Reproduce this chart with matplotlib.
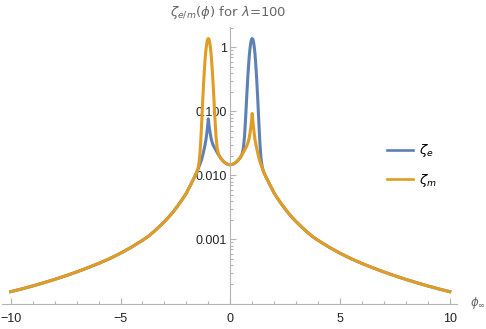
import matplotlib
matplotlib.use("Agg")
import matplotlib.pyplot as plt
from matplotlib.ticker import FixedLocator, NullFormatter, FixedFormatter, LogLocator
from matplotlib.lines import Line2D

plt.rcParams['font.family'] = ['DejaVu Sans']
plt.rcParams['mathtext.fontset'] = 'dejavusans'

# |phi| sample positions (the chart is read on both sides of 0)
phi_half = [0, 0.1, 0.2, 0.3, 0.35, 0.4, 0.45, 0.5, 0.55, 0.6, 0.65, 0.7, 0.75, 0.8, 0.85,
            0.875, 0.9, 0.925, 0.95, 0.975, 1.0, 1.025, 1.05, 1.075, 1.1, 1.125, 1.15, 1.2,
            1.25, 1.3, 1.35, 1.4, 1.45, 1.5, 1.55, 1.6, 1.65, 1.7, 1.8, 1.9, 2.0, 2.2, 2.4,
            2.6, 2.8, 3.0, 3.25, 3.5, 3.75, 4.0, 4.5, 5.0, 5.5, 6.0, 6.5, 7.0, 7.5, 8.0,
            8.5, 9.0, 9.5, 10.0]

# common tail values for |phi| = 1.7 ... 10 (both curves coincide there)
tail = [0.0085, 0.0072, 0.0062, 0.0053, 0.00416, 0.00333, 0.00271, 0.00225, 0.0019,
        0.00157, 0.00131, 0.00111, 0.00097, 0.00076, 0.00061, 0.000502, 0.000422,
        0.000361, 0.000311, 0.000271, 0.000238, 0.000211, 0.000188, 0.000169, 0.000153]

# zeta_e for phi >= 0, |phi| = 0 ... 1.65 (large peak at +1)
zeta_e_pos = [0.0147, 0.0149, 0.0155, 0.0165, 0.0172, 0.018, 0.019, 0.0203, 0.0224, 0.0273,
              0.041, 0.080, 0.171, 0.35, 0.63, 0.80, 0.97, 1.13, 1.26, 1.35, 1.38, 1.35,
              1.26, 1.13, 0.97, 0.80, 0.63, 0.34, 0.162, 0.070, 0.032, 0.0185, 0.0139,
              0.0119, 0.0108, 0.0099, 0.0091]
# zeta_e for phi <= 0, |phi| = 0 ... 1.65 (small peak at -1)
zeta_e_neg = [0.0147, 0.0149, 0.0155, 0.0165, 0.0172, 0.018, 0.019, 0.0202, 0.0215, 0.023,
              0.0247, 0.0265, 0.0285, 0.031, 0.0352, 0.0385, 0.043, 0.0485, 0.055, 0.063,
              0.077, 0.062, 0.052, 0.044, 0.038, 0.0335, 0.030, 0.025, 0.021, 0.018, 0.016,
              0.0145, 0.0131, 0.0118, 0.0108, 0.0099, 0.0091]
# zeta_m for phi >= 0, |phi| = 0 ... 1.65 (small peak at +1)
zeta_m_pos = [0.0147, 0.0149, 0.0155, 0.0165, 0.0172, 0.018, 0.019, 0.0202, 0.0215, 0.023,
              0.0248, 0.0268, 0.029, 0.032, 0.037, 0.041, 0.046, 0.053, 0.062, 0.074, 0.093,
              0.073, 0.060, 0.050, 0.043, 0.037, 0.033, 0.027, 0.0225, 0.019, 0.0165, 0.0147,
              0.0132, 0.0118, 0.0108, 0.0099, 0.0091]
# zeta_m for phi <= 0, |phi| = 0 ... 1.65 (large peak at -1)
zeta_m_neg = [0.0147, 0.0149, 0.0155, 0.0165, 0.0172, 0.018, 0.019, 0.0203, 0.0224, 0.0273,
              0.041, 0.080, 0.171, 0.35, 0.63, 0.80, 0.97, 1.13, 1.26, 1.35, 1.38, 1.35,
              1.26, 1.13, 0.97, 0.80, 0.63, 0.34, 0.162, 0.070, 0.032, 0.0185, 0.0139,
              0.0119, 0.0108, 0.0099, 0.0091]

x_ticks = [-10, -5, 0, 5, 10]
x_tick_labels = ["\u221210", "\u22125", "0", "5", "10"]
y_ticks = [0.001, 0.01, 0.1, 1]
y_tick_labels = ["0.001", "0.010", "0.100", "1"]
series_labels = [r"$\zeta_e$", r"$\zeta_m$"]

# assemble full series from the read halves
phi = [-p for p in reversed(phi_half[1:])] + phi_half
def full(neg, pos):
    n = neg + tail
    p = pos + tail
    return list(reversed(n[1:])) + p
zeta_e = full(zeta_e_neg, zeta_e_pos)
zeta_m = full(zeta_m_neg, zeta_m_pos)

BLUE = "#5E81B5"
ORANGE = "#E19C24"
AXC = "#b3b3b3"

fig = plt.figure(figsize=(4.86, 3.29), dpi=100)
ax = fig.add_axes([2/486, 25.5/329, 455/486, 276.5/329])

ax.plot(phi, zeta_e, color=BLUE, lw=2.2)
ax.plot(phi, zeta_m, color=ORANGE, lw=2.2)

ax.set_yscale('log')
ax.set_xlim(-10.4, 10.33)
ax.set_ylim(1e-4, 2.09)

for s in ['top', 'right']:
    ax.spines[s].set_visible(False)
ax.spines['left'].set_position(('data', 0))
for s in ['left', 'bottom']:
    ax.spines[s].set_color(AXC)
    ax.spines[s].set_linewidth(0.8)

ax.xaxis.set_major_locator(FixedLocator(x_ticks))
ax.xaxis.set_major_formatter(FixedFormatter(x_tick_labels))
ax.xaxis.set_minor_locator(FixedLocator([v for v in range(-10, 11) if v % 5 != 0]))
ax.yaxis.set_major_locator(FixedLocator(y_ticks))
ax.yaxis.set_major_formatter(FixedFormatter(y_tick_labels))
ax.yaxis.set_minor_locator(LogLocator(base=10, subs=[2, 3, 4, 5, 6, 7, 8, 9], numticks=20))
ax.yaxis.set_minor_formatter(NullFormatter())

ax.tick_params(axis='both', which='both', direction='in', color=AXC, width=0.8,
               labelsize=9, labelcolor='#222222')
ax.tick_params(axis='both', which='major', length=4.5)
ax.tick_params(axis='both', which='minor', length=2.5)
ax.tick_params(axis='x', pad=7)
ax.tick_params(axis='y', pad=2.5)
for lbl in ax.get_xticklabels() + ax.get_yticklabels():
    lbl.set_fontfamily(['Liberation Sans', 'DejaVu Sans'])

fig.text(0.47, 1 - 13/329, r"$\zeta_{e/m}(\phi)$ for $\lambda$=100", ha='center', va='center',
         color='#666666', fontsize=9.5)
fig.text(470/486, 1 - 303/329, r"$\phi_\infty$", ha='left', va='center', color='#666666',
         fontsize=8.5)

handles = [Line2D([], [], color=BLUE, lw=1.9), Line2D([], [], color=ORANGE, lw=1.9)]
fig.legend(handles, series_labels, loc='center left', bbox_to_anchor=(387/486, 1 - 165.5/329),
           frameon=False, fontsize=9.5, handlelength=2.0, handletextpad=0.4,
           labelspacing=0.95, borderpad=0, borderaxespad=0)

fig.savefig("out.png", dpi=100)
